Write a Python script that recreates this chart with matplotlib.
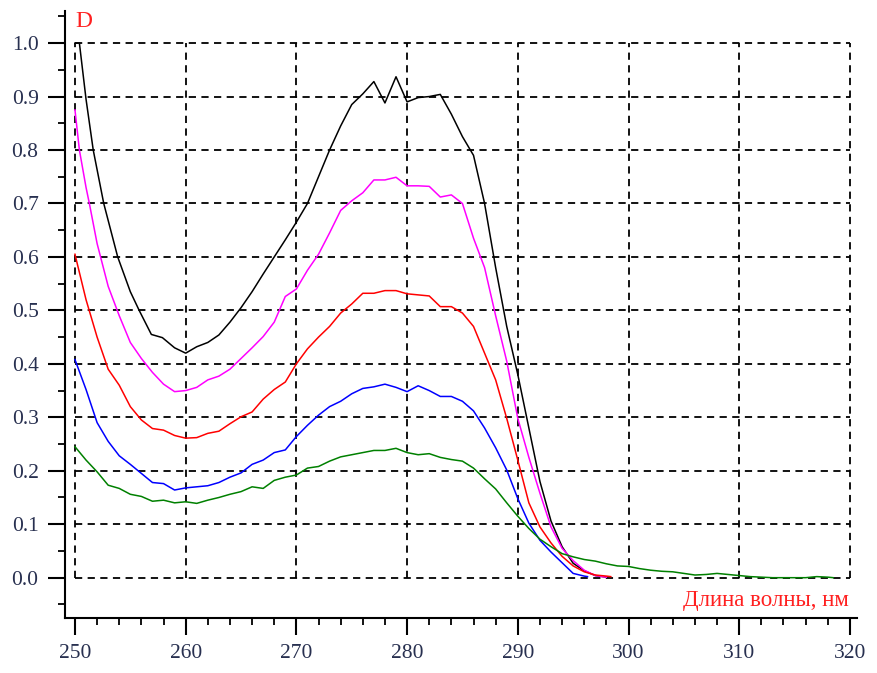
import matplotlib
matplotlib.use("Agg")
import matplotlib.pyplot as plt
from matplotlib.ticker import MultipleLocator

# Absorption spectra: optical density D vs. wavelength (nm)
wl_black = [250, 250.4, 251, 251.65, 252.6, 253.86, 255, 255.8, 256.9, 257.9, 259, 260,
            261, 262, 263, 264, 265, 266, 267, 268, 269, 270, 271, 272, 273, 274, 275,
            276, 277, 278, 279, 280, 281, 282, 283, 284, 285, 286, 287, 288, 289, 290,
            291, 292, 293, 294, 295, 296, 297, 298]
d_black = [1.0, 1.0, 0.895, 0.80, 0.70, 0.60, 0.535, 0.50, 0.455, 0.449, 0.43, 0.42,
           0.432, 0.44, 0.454, 0.478, 0.505, 0.535, 0.568, 0.60, 0.632, 0.665, 0.70, 0.75,
           0.80, 0.845, 0.885, 0.905, 0.928, 0.888, 0.937, 0.89, 0.898, 0.90, 0.904, 0.867,
           0.825, 0.79, 0.70, 0.58, 0.47, 0.38, 0.28, 0.18, 0.106, 0.058, 0.027, 0.013,
           0.004, 0.001]

wl_magenta = [250, 250.4, 251, 251.3, 252, 253, 254, 255, 256, 257, 258, 259, 260, 261,
              262, 263, 264, 265, 266, 267, 268, 269, 270, 271, 272, 273, 274, 275, 276,
              277, 278, 279, 280, 281, 282, 283, 284, 285, 286, 287, 288, 289, 290, 291,
              292, 293, 294, 295, 296, 297, 298]
d_magenta = [0.875, 0.80, 0.73, 0.70, 0.625, 0.545, 0.49, 0.44, 0.41, 0.384, 0.362, 0.348,
             0.350, 0.356, 0.37, 0.377, 0.39, 0.41, 0.43, 0.451, 0.478, 0.526, 0.54, 0.575,
             0.605, 0.645, 0.687, 0.705, 0.72, 0.744, 0.744, 0.749, 0.733, 0.733, 0.732,
             0.712, 0.716, 0.70, 0.635, 0.58, 0.49, 0.405, 0.298, 0.225, 0.158, 0.095,
             0.055, 0.032, 0.014, 0.004, 0.001]

wl_red = [250, 251, 252, 253, 254, 255, 256, 257, 258, 259, 260, 261, 262, 263, 264, 265,
          266, 267, 268, 269, 270, 271, 272, 273, 274, 275, 276, 277, 278, 279, 280, 281,
          282, 283, 284, 285, 286, 287, 288, 289, 290, 291, 292, 293, 294, 295, 296, 297,
          298, 298.4]
d_red = [0.605, 0.52, 0.45, 0.39, 0.36, 0.32, 0.295, 0.279, 0.276, 0.266, 0.261, 0.262,
         0.27, 0.274, 0.288, 0.301, 0.31, 0.334, 0.352, 0.366, 0.40, 0.428, 0.45, 0.47,
         0.495, 0.512, 0.532, 0.532, 0.537, 0.537, 0.531, 0.529, 0.527, 0.507, 0.507, 0.495,
         0.47, 0.42, 0.37, 0.298, 0.22, 0.14, 0.095, 0.065, 0.04, 0.022, 0.011, 0.005,
         0.003, 0.002]

wl_blue = [250, 251, 252, 253, 254, 255, 256, 257, 258, 259, 260, 261, 262, 263, 264, 265,
           266, 267, 268, 269, 270, 271, 272, 273, 274, 275, 276, 277, 278, 279, 280, 281,
           282, 283, 284, 285, 286, 287, 288, 289, 290, 291, 292, 293, 294, 295, 296, 296.3]
d_blue = [0.408, 0.352, 0.29, 0.255, 0.228, 0.212, 0.195, 0.178, 0.176, 0.164, 0.168,
          0.17, 0.172, 0.178, 0.188, 0.196, 0.212, 0.22, 0.234, 0.239, 0.264, 0.285, 0.304,
          0.32, 0.33, 0.344, 0.354, 0.357, 0.362, 0.356, 0.348, 0.359, 0.35, 0.339, 0.339,
          0.33, 0.312, 0.28, 0.243, 0.2015, 0.148, 0.102, 0.07, 0.048, 0.028, 0.008, 0.003,
          0.002]

wl_green = [250, 251, 252, 253, 254, 255, 256, 257, 258, 259, 260, 261, 262, 263, 264,
            265, 266, 267, 268, 269, 270, 271, 272, 273, 274, 275, 276, 277, 278, 279, 280,
            281, 282, 283, 284, 285, 286, 287, 288, 289, 290, 291, 292, 293, 294, 295, 296,
            297, 298, 299, 300, 301, 302, 303, 304, 305, 306, 307, 308, 309, 310, 311, 312,
            313, 314, 315, 316, 317, 318, 318.5]
d_green = [0.245, 0.22, 0.198, 0.173, 0.167, 0.156, 0.152, 0.143, 0.145, 0.14, 0.142,
           0.139, 0.145, 0.15, 0.156, 0.161, 0.17, 0.167, 0.182, 0.188, 0.192, 0.205, 0.208,
           0.218, 0.226, 0.23, 0.234, 0.238, 0.238, 0.242, 0.234, 0.23, 0.232, 0.225, 0.221,
           0.218, 0.205, 0.185, 0.166, 0.14, 0.115, 0.092, 0.072, 0.058, 0.045, 0.039, 0.034,
           0.031, 0.026, 0.022, 0.021, 0.017, 0.014, 0.012, 0.011, 0.008, 0.005, 0.006, 0.008,
           0.006, 0.004, 0.002, 0.001, 0.0, 0.0, 0.0, 0.0, 0.002, 0.001, 0.0]

x_ticks = [250, 260, 270, 280, 290, 300, 310, 320]
y_ticks = [0.0, 0.1, 0.2, 0.3, 0.4, 0.5, 0.6, 0.7, 0.8, 0.9, 1.0]
y_label = "D"
x_label = "Длина волны, нм"

serif = ["Liberation Serif", "DejaVu Serif"]
tick_color = "#283050"

fig = plt.figure(figsize=(8.77, 6.73), dpi=100)
ax = fig.add_axes([65 / 877, 55 / 673, (857 - 65) / 877, (618 - 11) / 673])
ax.set_xlim(249.1, 320.64)
ax.set_ylim(-0.0754, 1.06)

# dashed grid confined to the data rectangle
dash = (0, (4, 3))
ax.hlines(y_ticks, x_ticks[0], x_ticks[-1], colors="black", linestyles=dash, lw=1.3, zorder=1)
ax.vlines(x_ticks, y_ticks[0], y_ticks[-1], colors="black", linestyles=dash, lw=1.3, zorder=1)

lw = 1.1
ax.plot(wl_black, d_black, color="black", lw=lw, zorder=3)
ax.plot(wl_magenta, d_magenta, color="#ff00ff", lw=lw, zorder=3)
ax.plot(wl_red, d_red, color="#ff0000", lw=lw, zorder=3)
ax.plot(wl_blue, d_blue, color="#0000ff", lw=lw, zorder=3)
ax.plot(wl_green, d_green, color="#008000", lw=lw, zorder=3)

for side in ("top", "right"):
    ax.spines[side].set_visible(False)
for side in ("left", "bottom"):
    ax.spines[side].set_linewidth(1.5)
    ax.spines[side].set_color("black")

ax.set_xticks(x_ticks)
ax.set_yticks(y_ticks)
ax.set_yticklabels([f"{v:.1f}" for v in y_ticks])
ax.xaxis.set_minor_locator(MultipleLocator(2))
ax.yaxis.set_minor_locator(MultipleLocator(0.05))
ax.tick_params(which="major", direction="out", length=12, width=1.5, pad=7,
               labelsize=15.5, labelcolor=tick_color, colors="black")
ax.tick_params(which="minor", direction="out", length=5, width=1.3, colors="black")
for lab in ax.get_xticklabels() + ax.get_yticklabels():
    lab.set_family(serif)
    lab.set_color(tick_color)

fig.text(75 / 877, 1 - 27 / 673, y_label, color="#ff2020", fontsize=17,
         family=serif, ha="left", va="baseline")
fig.text(849 / 877, 1 - 606 / 673, x_label, color="#ff2020", fontsize=16.5,
         family=serif, ha="right", va="baseline")

fig.savefig("out.png", dpi=100)
